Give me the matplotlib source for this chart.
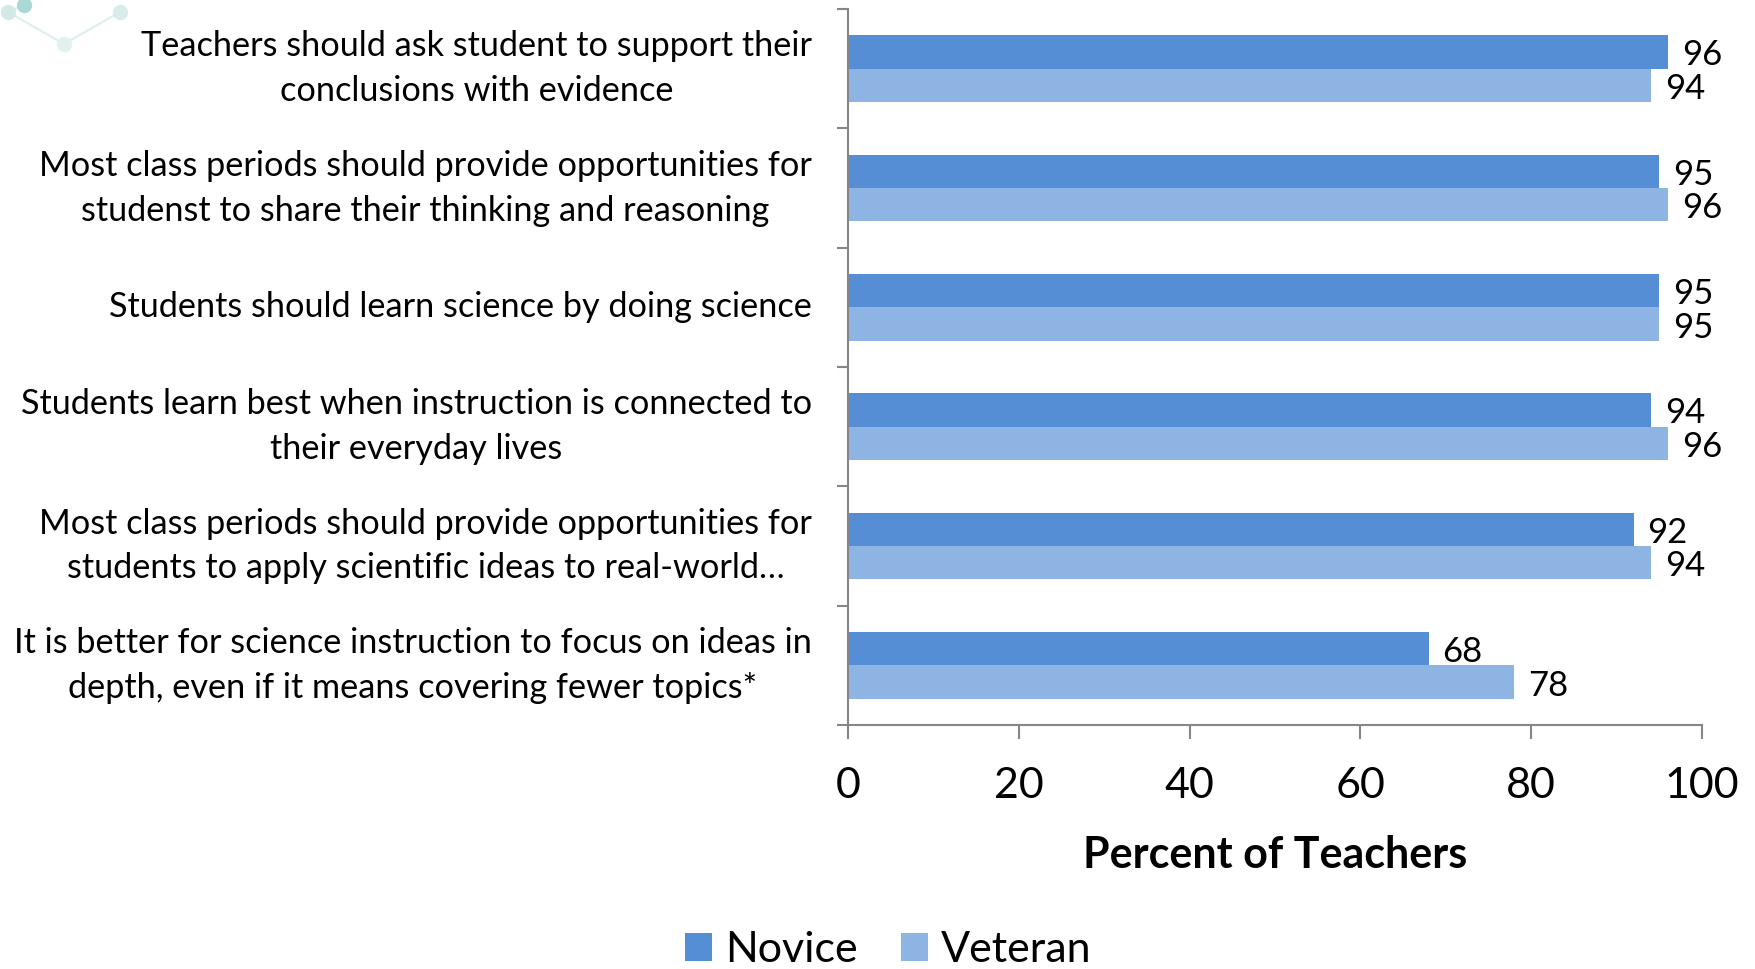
import matplotlib
matplotlib.use("Agg")
import matplotlib.pyplot as plt
from matplotlib.lines import Line2D
import numpy as np

categories = [
    "Teachers should ask student to support their\nconclusions with evidence",
    "Most class periods should provide opportunities for\nstudenst to share their thinking and reasoning",
    "Students should learn science by doing science",
    "Students learn best when instruction is connected to\ntheir everyday lives",
    "Most class periods should provide opportunities for\nstudents to apply scientific ideas to real-world\u2026",
    "It is better for science instruction to focus on ideas in\ndepth, even if it means covering fewer topics*",
]
novice = [96, 95, 95, 94, 92, 68]
veteran = [94, 96, 95, 96, 94, 78]
series_names = ["Novice", "Veteran"]
xticks = [0, 20, 40, 60, 80, 100]

FONT = ["Lato", "DejaVu Sans"]
plt.rcParams['font.family'] = FONT

W, H = 1755, 969
fig = plt.figure(figsize=(W / 100, H / 100), dpi=100)

# faint decorative molecule in the top-left corner
fig.add_artist(Line2D([8 / W, 64 / W, 120 / W], [1 - 12 / H, 1 - 44 / H, 1 - 12 / H],
                      color="#dceeed", lw=1.5))
fig.add_artist(Line2D([8 / W, 24 / W], [1 - 12 / H, 1 - 5 / H], color="#dceeed", lw=1.5))
for (px, py, c) in ((8, 12, "#d3e9e8"), (24, 5, "#a9d8d6"), (64, 44, "#e3f0f0"), (120, 12, "#d9ecec")):
    fig.add_artist(Line2D([px / W], [1 - py / H], marker="o", markersize=10,
                          color=c, linestyle="none"))

ax = fig.add_axes([848 / W, 1 - 725 / H, (1702 - 848) / W, (725 - 9) / H])

c_nov = "#558ED5"
c_vet = "#8DB4E2"
bh = 0.28
y = np.arange(len(categories))
b1 = ax.barh(y - bh / 2, novice, height=bh, color=c_nov, label=series_names[0])
b2 = ax.barh(y + bh / 2, veteran, height=bh, color=c_vet, label=series_names[1])

for bars, vals in ((b1, novice), (b2, veteran)):
    for rect, v in zip(bars, vals):
        ax.annotate(str(v), (v, rect.get_y() + rect.get_height() / 2),
                    xytext=(10, -2.5), textcoords="offset points",
                    va="center", ha="left", fontsize=25)

ax.set_xlim(0, 100)
ax.set_ylim(len(categories) - 0.5, -0.5)
ax.set_xticks(xticks)
ax.set_xticklabels([str(t) for t in xticks], fontsize=31)
ax.set_yticks(y)
ax.set_yticklabels(categories, fontsize=24.7, linespacing=1.5,
                   multialignment="center", va="center")
ax.set_yticks(np.arange(len(categories) + 1) - 0.5, minor=True)
ax.tick_params(axis="y", which="major", length=0, pad=26)
ax.tick_params(axis="y", which="minor", length=8, color="#868686", width=1.5, direction="out")
ax.tick_params(axis="x", which="major", length=10, color="#868686", width=1.5, pad=20)

for s in ("top", "right"):
    ax.spines[s].set_visible(False)
for s in ("left", "bottom"):
    ax.spines[s].set_color("#868686")
    ax.spines[s].set_linewidth(1.5)

ax.set_xlabel("Percent of Teachers", fontsize=31, fontweight="bold", labelpad=22)

fig.legend(handles=[b1, b2], labels=series_names, loc="lower center",
           bbox_to_anchor=(888 / W, -0.04), ncol=2, frameon=False, fontsize=31,
           handlelength=0.63, handleheight=0.63, handletextpad=0.3, columnspacing=1.0)

fig.savefig("out.png", dpi=100)
